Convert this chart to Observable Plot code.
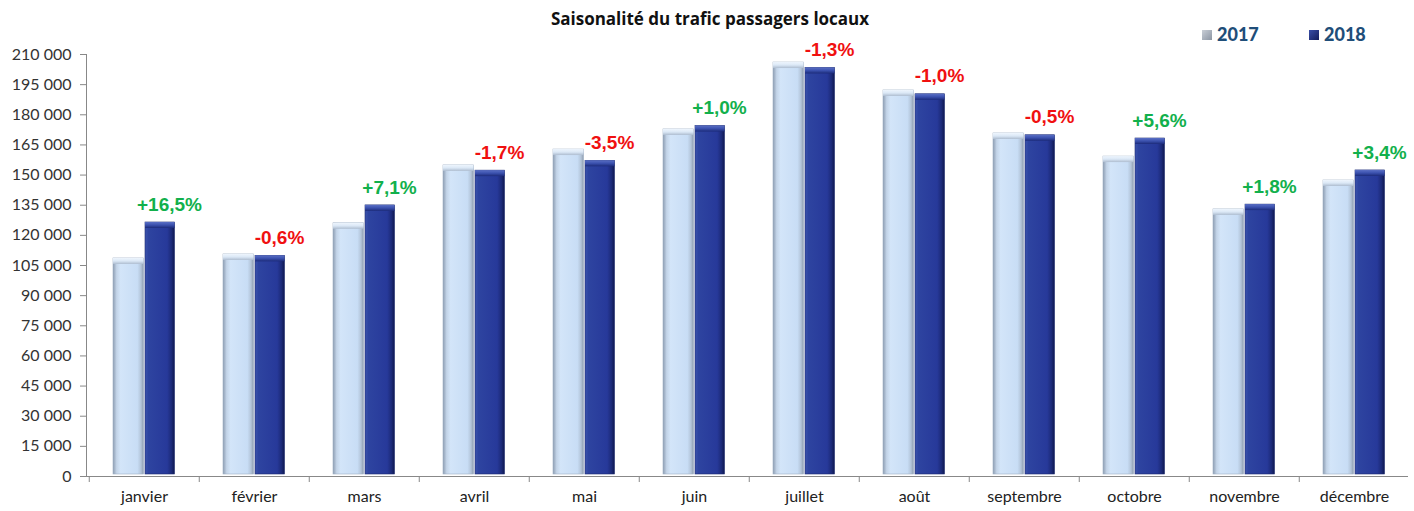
<!DOCTYPE html>
<html>
<head>
<meta charset="utf-8">
<script src="https://cdn.jsdelivr.net/npm/d3@7"></script>
<script src="https://cdn.jsdelivr.net/npm/@observablehq/plot@0.6"></script>
<style>
  body { margin: 0; background: #fff; }
  #wrap { position: relative; width: 1414px; height: 511px; font-family: Lato, "Open Sans", sans-serif; }
  #title { position: absolute; left: 0; width: 1420px; top: 7px; text-align: center; font-family: "Open Sans", sans-serif; font-weight: bold; font-size: 17px; color: #111; pointer-events: none; }
  .leg { position: absolute; top: 23px; font-weight: 900; font-size: 18px; color: #1f4e79; }
  .sw { display: inline-block; width: 10px; height: 10px; margin-right: 5px; vertical-align: 1px; }
</style>
</head>
<body>
<div id="wrap">
  <div id="title">Saisonalité du trafic passagers locaux</div>
  <div class="leg" style="left:1202px"><span class="sw" style="background:linear-gradient(135deg,#c9ced6,#8b95a3)"></span>2017</div>
  <div class="leg" style="left:1309px"><span class="sw" style="background:linear-gradient(135deg,#3a4fa8,#141e5c)"></span>2018</div>
</div>
<script>
const months = ["janvier","février","mars","avril","mai","juin","juillet","août","septembre","octobre","novembre","décembre"];
const values2017 = [108500,110500,126000,154800,162700,172700,206000,192100,170700,159200,132900,147300];
const values2018 = [126400,109800,134900,152200,157100,174400,203300,190200,169800,168200,135300,152300];
const changeLabels = ["+16,5%","-0,6%","+7,1%","-1,7%","-3,5%","+1,0%","-1,3%","-1,0%","-0,5%","+5,6%","+1,8%","+3,4%"];
const yTicks = d3.range(0, 210001, 15000);

const rows = months.map((m, i) => ({month: m, v2017: values2017[i], v2018: values2018[i], label: changeLabels[i]}));
const fmt = d => d3.format(",")(d).replace(/,/g, " ");

const chart = Plot.plot({
  width: 1414,
  height: 511,
  marginLeft: 86,
  marginRight: 2,
  marginTop: 54,
  marginBottom: 35,
  style: {fontFamily: "Lato, 'Open Sans', sans-serif", fontSize: "14px", color: "#333", background: "transparent"},
  x: {domain: months, padding: 0, label: null},
  y: {domain: [0, 210000], label: null},
  marks: [
    Plot.axisY({ticks: yTicks, tickFormat: fmt, tickSize: 6, tickPadding: 9, stroke: "#888", fill: "#333", fontSize: 16}),
    Plot.axisX({tickSize: 0, tickPadding: 14, fontSize: 16, fill: "#222"}),
    Plot.axisX({tickSize: 6, dx: -55.25, tickFormat: () => "", stroke: "#888"}),
    Plot.frame({anchor: "left", stroke: "#888"}),
    Plot.ruleY([0], {stroke: "#888", insetRight: 4}),
    // 2017 bars
    Plot.barY(rows, {x: "month", y1: 0, y2: "v2017", insetLeft: 24, insetRight: 55.5, insetBottom: 2, fill: "url(#g2017)", stroke: "#9fb0c4", strokeWidth: 0.6}),
    Plot.barY(rows, {x: "month", y1: "v2017", y2: "v2017", insetLeft: 24, insetRight: 55.5, insetBottom: -6, fill: "url(#c2017)"}),
    // 2018 bars
    Plot.barY(rows, {x: "month", y1: 0, y2: "v2018", insetLeft: 56, insetRight: 24.5, insetBottom: 2, fill: "url(#g2018)", stroke: "#1b2a6e", strokeWidth: 0.6}),
    Plot.barY(rows, {x: "month", y1: "v2018", y2: "v2018", insetLeft: 56, insetRight: 24.5, insetBottom: -6, fill: "url(#c2018)"}),
    // change labels
    Plot.text(rows, {x: "month", y: "v2018", text: "label", dx: 25, dy: -18, fontWeight: "bold", fontSize: 19, fontFamily: "Liberation Sans, Arial, sans-serif",
      fill: d => d.label.startsWith("+") ? "#12b04c" : "#f01010"})
  ]
});

const defs = d3.select(chart).insert("defs", ":first-child");
function hgrad(id, stops) {
  const g = defs.append("linearGradient").attr("id", id).attr("x1", "0").attr("x2", "1").attr("y1", "0").attr("y2", "0");
  stops.forEach(([o, c]) => g.append("stop").attr("offset", o).attr("stop-color", c));
}
function vgrad(id, stops) {
  const g = defs.append("linearGradient").attr("id", id).attr("x1", "0").attr("x2", "0").attr("y1", "0").attr("y2", "1");
  stops.forEach(([o, c]) => g.append("stop").attr("offset", o).attr("stop-color", c));
}
hgrad("g2017", [[0, "#8d9db2"], [0.12, "#c3d4e8"], [0.25, "#d3e5f9"], [0.8, "#c8ddf5"], [0.92, "#b3c4d8"], [1, "#8e9cae"]]);
hgrad("g2018", [[0, "#3b53ac"], [0.12, "#2e44a0"], [0.75, "#27399a"], [0.9, "#1c2a78"], [1, "#0f1850"]]);
vgrad("c2017", [[0, "#eef5fd"], [0.5, "#dbe8f6"], [1, "#aebdd0"]]);
vgrad("c2018", [[0, "#5a6fc4"], [0.5, "#3b51ae"], [1, "#1c2b7a"]]);

document.getElementById("wrap").prepend(chart);
chart.style.position = "absolute";
chart.style.left = "0";
chart.style.top = "0";
</script>
</body>
</html>
